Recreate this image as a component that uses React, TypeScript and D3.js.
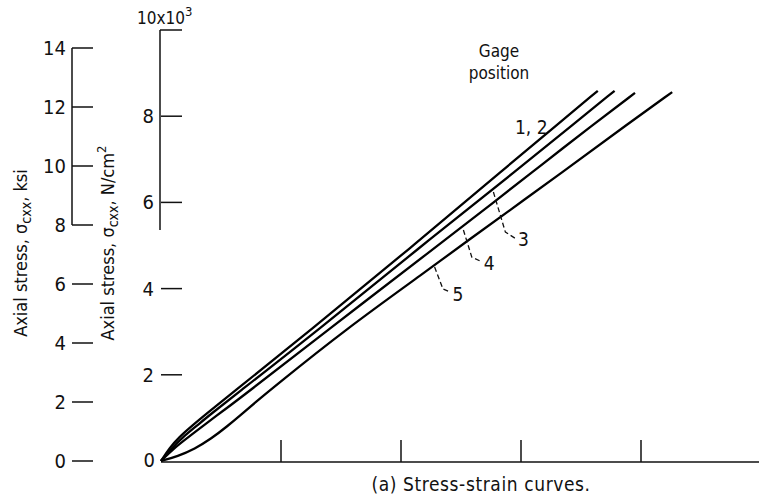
import React from 'react';
import * as d3 from 'd3';

// strain (tick units, unlabeled) vs axial stress (10^3 N/cm^2)
const gage12: [number, number][] = [
  [0, 0], [0.07, 0.3], [0.15, 0.55], [0.26, 0.82], [0.39, 1.12], [0.54, 1.46],
  [1.25, 3.04], [2.06, 4.9], [2.9, 6.87], [3.3, 7.8], [3.64, 8.59],
];
const gage3: [number, number][] = [
  [0, 0], [0.09, 0.3], [0.18, 0.55], [0.29, 0.8], [0.42, 1.1], [0.58, 1.45],
  [1.31, 3.04], [2.13, 4.9], [3.02, 6.87], [3.43, 7.8], [3.78, 8.59],
];
const gage4: [number, number][] = [
  [0, 0], [0.1, 0.28], [0.24, 0.58], [0.39, 0.9], [0.52, 1.17], [0.67, 1.48],
  [1.39, 3.04], [2.26, 4.9], [2.8, 6.06], [3.17, 6.87], [3.6, 7.8], [3.95, 8.54],
];
const gage5: [number, number][] = [
  [0, 0], [0.14, 0.11], [0.28, 0.28], [0.42, 0.52], [0.55, 0.8], [0.67, 1.08],
  [0.79, 1.37], [0.92, 1.67], [1.53, 3.04], [2.26, 4.5], [2.45, 4.9], [3.43, 6.87],
  [3.88, 7.8], [4.26, 8.56],
];
const curves = [gage12, gage3, gage4, gage5];

const strainTicks = [1, 2, 3, 4];
const stressTicksN = [2, 4, 6, 8];
const stressTicksKsi = [0, 2, 4, 6, 8, 10, 12, 14];

// leader annotations (data units): start, corner, end, label position
const leaderNames = ['3', '4', '5'];
const leaderStart: [number, number][] = [[2.77, 6.24], [2.52, 5.36], [2.28, 4.5]];
const leaderCorner: [number, number][] = [[2.87, 5.31], [2.59, 4.73], [2.35, 3.99]];
const leaderEnd: [number, number][] = [[2.95, 5.17], [2.66, 4.64], [2.41, 3.92]];
const leaderLabel: [number, number][] = [[2.975, 4.99], [2.69, 4.43], [2.43, 3.71]];

const FONT = "'Liberation Sans Narrow', 'DejaVu Sans Condensed', 'Arial Narrow', sans-serif";

export default function App() {
  const W = 759, H = 502;
  const x = d3.scaleLinear().domain([0, 5]).range([161, 761]);
  const y = d3.scaleLinear().domain([0, 10]).range([461, 30]);
  const yK = d3.scaleLinear().domain([0, 14]).range([461, 48]);
  const line = d3.line<[number, number]>()
    .x(d => x(d[0]))
    .y(d => y(d[1]))
    .curve(d3.curveBasis);

  const ink = '#111';
  return (
    <svg width={W} height={H} style={{ position: 'absolute', left: 0, top: 0, background: '#fff' }}
      fontFamily={FONT} fill={ink}>
      <rect width={W} height={H} fill="#fff" />
      {/* outer ksi axis */}
      <line x1={72} x2={72} y1={yK(14)} y2={yK(8)} stroke={ink} strokeWidth={1.5} />
      {stressTicksKsi.map(t => (
        <g key={'k' + t}>
          <line x1={72} x2={93} y1={yK(t)} y2={yK(t)} stroke={ink} strokeWidth={1.5} />
          <text x={66} y={yK(t) + 7} fontSize={20} textAnchor="end">{t}</text>
        </g>
      ))}
      {/* inner N/cm2 axis */}
      <line x1={160} x2={160} y1={y(10)} y2={230} stroke={ink} strokeWidth={1.5} />
      <line x1={160} x2={182} y1={y(10)} y2={y(10)} stroke={ink} strokeWidth={1.5} />
      <text x={137} y={24} fontSize={17}>10x10<tspan dy={-8} fontSize={13}>3</tspan></text>
      {stressTicksN.map(t => (
        <g key={'n' + t}>
          <line x1={161} x2={182} y1={y(t)} y2={y(t)} stroke={ink} strokeWidth={1.5} />
          <text x={154} y={y(t) + 7} fontSize={20} textAnchor="end">{t}</text>
        </g>
      ))}
      <text x={155} y={y(0) + 6} fontSize={20} textAnchor="end">0</text>
      {/* x axis */}
      <line x1={x(0)} x2={W} y1={y(0) + 1} y2={y(0) + 1} stroke={ink} strokeWidth={1.5} />
      {strainTicks.map(t => (
        <line key={'x' + t} x1={x(t)} x2={x(t)} y1={y(0) + 1} y2={y(0) - 21} stroke={ink} strokeWidth={1.5} />
      ))}
      {/* axis titles */}
      <text transform="translate(27,253) rotate(-90)" textAnchor="middle" fontSize={18}>
        {'Axial stress,  σ'}<tspan dy={4} fontSize={14}>cxx</tspan><tspan dy={-4}>{',  ksi'}</tspan>
      </text>
      <text transform="translate(114,243) rotate(-90)" textAnchor="middle" fontSize={18}>
        {'Axial stress,  σ'}<tspan dy={4} fontSize={14}>cxx</tspan><tspan dy={-4}>{',  N/cm'}</tspan><tspan dy={-8} fontSize={13}>2</tspan>
      </text>
      {/* curves */}
      {curves.map((c, i) => (
        <path key={'c' + i} d={line(c) || ''} fill="none" stroke="#000" strokeWidth={2.3} strokeLinejoin="round" />
      ))}
      {/* legend title */}
      <text x={499} y={57} fontSize={17} textAnchor="middle">Gage</text>
      <text x={499} y={79} fontSize={17} textAnchor="middle">position</text>
      <text x={x(2.95)} y={y(7.59)} fontSize={19}>1, 2</text>
      {leaderNames.map((n, i) => (
        <g key={'l' + n}>
          <path
            d={`M${x(leaderStart[i][0])},${y(leaderStart[i][1])} L${x(leaderCorner[i][0])},${y(leaderCorner[i][1])} L${x(leaderEnd[i][0])},${y(leaderEnd[i][1])}`}
            fill="none" stroke={ink} strokeWidth={1.3} strokeDasharray="5,3" />
          <text x={x(leaderLabel[i][0])} y={y(leaderLabel[i][1])} fontSize={19}>{n}</text>
        </g>
      ))}
      <text x={481} y={491} fontSize={19} letterSpacing={0.6} textAnchor="middle">(a) Stress-strain curves.</text>
    </svg>
  );
}
